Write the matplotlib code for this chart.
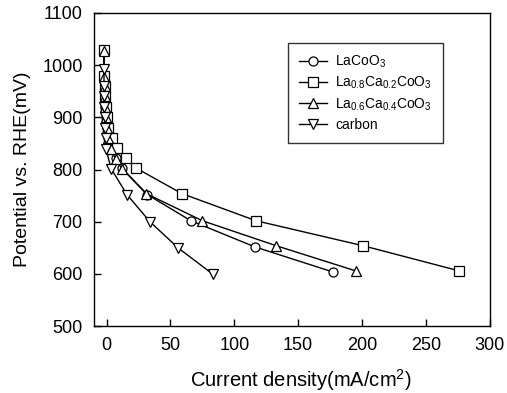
import matplotlib
matplotlib.use("Agg")
import matplotlib.pyplot as plt

plt.rcParams['font.family'] = ['Liberation Sans', 'DejaVu Sans']
plt.rcParams['mathtext.default'] = 'regular'

# LaCoO3
x_lco = [-2, -2, -1.5, -1, -1, -0.5, 0, 1, 3, 7, 12, 32, 66, 116, 177]
y_lco = [1030, 980, 960, 940, 920, 900, 880, 860, 840, 822, 803, 752, 702, 652, 604]
# La0.8Ca0.2CoO3
x_c2 = [-2, -2, -1.5, -1, -0.5, 0, 1, 4, 8, 15, 23, 59, 117, 201, 276]
y_c2 = [1030, 980, 960, 940, 920, 900, 880, 860, 841, 822, 803, 754, 702, 654, 606]
# La0.6Ca0.4CoO3
x_c4 = [-2, -2, -1.5, -1, -1, -0.5, 0, 1.5, 3.5, 7, 12, 31, 75, 133, 195]
y_c4 = [1028, 978, 960, 940, 920, 900, 880, 860, 840, 820, 802, 754, 702, 654, 606]
# carbon
x_cb = [-2, -2, -2, -2, -1.5, -1, -0.5, -0.5, 3.5, 16, 34, 56, 83]
y_cb = [992, 960, 940, 920, 900, 880, 860, 840, 802, 752, 700, 650, 600]

fig = plt.figure(figsize=(5.07, 3.93), dpi=100)
ax = fig.add_axes([0.185, 0.170, 0.781, 0.797])

kw = dict(color='black', lw=1.0, markersize=6.5, markerfacecolor='white',
          markeredgecolor='black', markeredgewidth=0.9)
ax.plot(x_lco, y_lco, marker='o', label='LaCoO$_3$', **kw)
ax.plot(x_c2, y_c2, marker='s', label='La$_{0.8}$Ca$_{0.2}$CoO$_3$', **kw)
ax.plot(x_c4, y_c4, marker='^', label='La$_{0.6}$Ca$_{0.4}$CoO$_3$', **kw)
ax.plot(x_cb, y_cb, marker='v', label='carbon', **kw)

ax.set_xlim(-10, 300)
ax.set_ylim(500, 1100)
ax.set_xticks([0, 50, 100, 150, 200, 250, 300])
ax.set_yticks([500, 600, 700, 800, 900, 1000, 1100])
ax.tick_params(direction='in', length=5, width=1, labelsize=13)
ax.tick_params(axis='x', pad=8)
ax.tick_params(axis='y', pad=8)
for s in ax.spines.values():
    s.set_linewidth(1)

ax.set_xlabel('Current density(mA/cm$^2$)', fontsize=14.5)
ax.xaxis.set_label_coords(0.523, -0.13)
ax.set_ylabel('Potential vs. RHE(mV)', fontsize=14, labelpad=8)

leg = ax.legend(loc='upper left', bbox_to_anchor=(0.49, 0.905), fontsize=10,
                frameon=True, fancybox=False, edgecolor='black',
                handlelength=2.0, borderpad=0.8, labelspacing=0.35,
                handletextpad=0.6, borderaxespad=0)
leg.get_frame().set_linewidth(1)

fig.savefig('out.png', dpi=100)
